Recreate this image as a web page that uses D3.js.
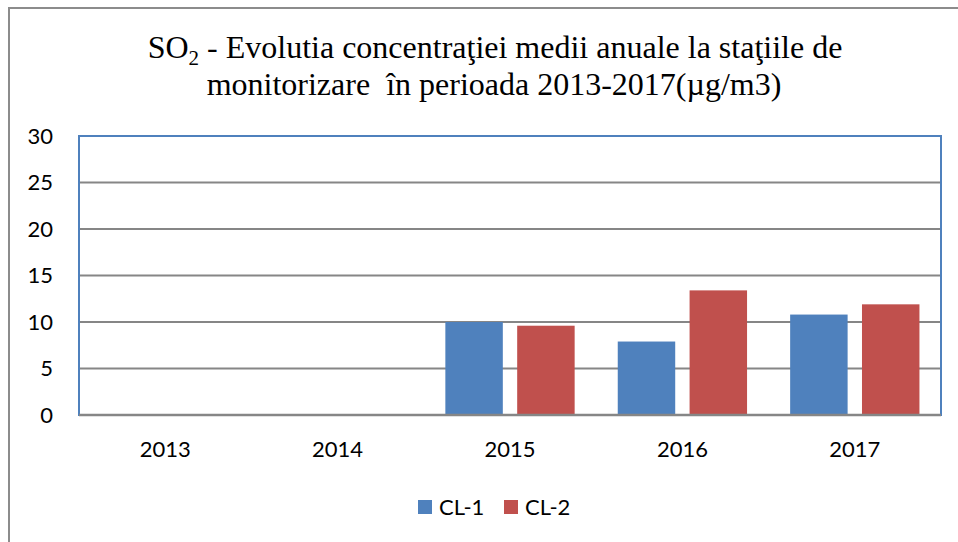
<!DOCTYPE html>
<html>
<head>
<meta charset="utf-8">
<script src="https://cdn.jsdelivr.net/npm/d3@7"></script>
<style>
  body { margin: 0; background: #fff; }
  svg { display: block; }
</style>
</head>
<body>
<svg width="958" height="542"></svg>
<script>
// data
let years = ["2013", "2014", "2015", "2016", "2017"];
let seriesNames = ["CL-1", "CL-2"];
let cl1 = [null, null, 10.0, 7.9, 10.8];
let cl2 = [null, null, 9.6, 13.4, 11.9];
let yTicks = [0, 5, 10, 15, 20, 25, 30];

let svg = d3.select("svg"),
    margin = { top: 136, right: 17, bottom: 127, left: 79 },
    width = svg.attr("width") - margin.left - margin.right,
    height = svg.attr("height") - margin.top - margin.bottom,
    g = svg.append("g").attr("transform", "translate(" + margin.left + "," + margin.top + ")");

let colors = d3.scaleOrdinal()
    .domain(seriesNames)
    .range(["#4F81BD", "#C0504D"]);

// outer chart border (left + top)
svg.append("path")
    .attr("d", "M9,542 V8 H958")
    .attr("fill", "none")
    .attr("stroke", "#8c8c8c")
    .attr("stroke-width", 2);

// title
let title = svg.append("text")
    .attr("text-anchor", "middle")
    .style("font-family", "'Liberation Serif', 'Times New Roman', serif")
    .style("font-size", "32px")
    .style("white-space", "pre")
    .attr("fill", "#000");
let line1 = title.append("tspan").attr("x", 495).attr("y", 58);
line1.append("tspan").text("SO");
line1.append("tspan").attr("dy", 7).style("font-size", "21px").text("2");
line1.append("tspan").attr("dy", -7).text(" - Evolutia concentraţiei medii anuale la staţiile de");
title.append("tspan").attr("x", 494).attr("y", 95).text("monitorizare  în perioada 2013-2017(µg/m3)");

let y = d3.scaleLinear()
    .domain([0, 30])
    .range([height, 0]);

let x0 = d3.scaleBand()
    .domain(years)
    .range([0, width]);

let x1 = d3.scaleBand()
    .domain(seriesNames)
    .range([0, x0.bandwidth()])
    .paddingInner(0.2)
    .paddingOuter(0.3);

// gridlines
g.append("g")
    .selectAll("line")
    .data(yTicks.filter(d => d > 0 && d < 30))
    .enter().append("line")
    .attr("x1", 0)
    .attr("x2", width)
    .attr("y1", d => y(d))
    .attr("y2", d => y(d))
    .attr("stroke", "#868686")
    .attr("stroke-width", 2);

// plot area border
g.append("rect")
    .attr("x", 0)
    .attr("y", 0)
    .attr("width", width)
    .attr("height", height)
    .attr("fill", "none")
    .attr("stroke", "#4F81BD")
    .attr("stroke-width", 2);

// bars
let rows = years.map((yr, i) => ({ year: yr, values: [
    { key: seriesNames[0], value: cl1[i] },
    { key: seriesNames[1], value: cl2[i] }
] }));

let sector = g.selectAll("g.sector")
    .data(rows)
    .enter().append("g")
    .attr("class", "sector")
    .attr("transform", d => "translate(" + x0(d.year) + ",0)");

sector.selectAll("rect")
    .data(d => d.values.filter(v => v.value != null))
    .enter().append("rect")
    .attr("x", d => x1(d.key))
    .attr("width", x1.bandwidth())
    .attr("y", d => y(d.value))
    .attr("height", d => height - y(d.value))
    .attr("fill", d => colors(d.key));

// x axis line
g.append("line")
    .attr("x1", 0)
    .attr("x2", width)
    .attr("y1", y(0))
    .attr("y2", y(0))
    .attr("stroke", "#868686")
    .attr("stroke-width", 2.5);

let labelFont = "Lato, 'Open Sans', sans-serif";

// y axis labels
let yAxis = d3.axisLeft(y).tickValues(yTicks).tickSize(0).tickPadding(26);
g.append("g")
    .call(yAxis)
    .call(a => a.select(".domain").remove())
    .selectAll("text")
    .style("font-family", labelFont)
    .style("font-size", "22px")
    .attr("fill", "#000");

// x axis labels
let xAxis = d3.axisBottom(x0).tickSize(0).tickPadding(26);
g.append("g")
    .attr("transform", "translate(0," + height + ")")
    .call(xAxis)
    .call(a => a.select(".domain").remove())
    .selectAll("text")
    .style("font-family", labelFont)
    .style("font-size", "22px")
    .attr("fill", "#000");

// legend
let legendX = [418, 504];
let legend = svg.append("g")
    .selectAll("g")
    .data(seriesNames)
    .enter().append("g")
    .attr("transform", (d, i) => "translate(" + legendX[i] + ",500)");
legend.append("rect")
    .attr("width", 14)
    .attr("height", 14)
    .attr("fill", colors);
legend.append("text")
    .attr("x", 21)
    .attr("y", 15)
    .style("font-family", labelFont)
    .style("font-size", "22px")
    .attr("fill", "#000")
    .text(d => d);
</script>
</body>
</html>
